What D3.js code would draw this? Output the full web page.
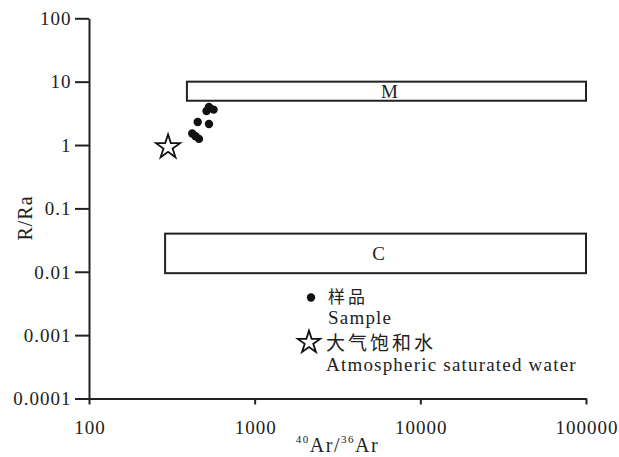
<!DOCTYPE html>
<html>
<head>
<meta charset="utf-8">
<script src="https://cdn.jsdelivr.net/npm/d3@7"></script>
<style>
  body { margin: 0; background: #fff; }
  text { font-family: "Liberation Serif", "DejaVu Serif", serif; fill: #222; }
  .cjk { font-family: "Noto Sans CJK SC", sans-serif; }
</style>
</head>
<body>
<div class="chart"></div>
<script>
// R/Ra vs 40Ar/36Ar
var xTicks = [100, 1000, 10000, 100000];
var xTickLabels = ["100", "1000", "10000", "100000"];
var yTicks = [0.0001, 0.001, 0.01, 0.1, 1, 10, 100];
var yTickLabels = ["0.0001", "0.001", "0.01", "0.1", "1", "10", "100"];

// samples: 40Ar/36Ar, R/Ra
var sampleAr = [512, 530, 565, 453, 530, 420, 440, 461];
var sampleRa = [3.45, 4.0, 3.62, 2.31, 2.15, 1.52, 1.38, 1.25];

// atmospheric saturated water
var asw = [300, 0.93];

// end-member fields [x0, x1, y0, y1]
var fieldNames = ["M", "C"];
var fieldAr = [[390, 100000], [288, 100000]];
var fieldRa = [[5, 10], [0.0095, 0.04]];

var legendNames = ["样品", "Sample", "大气饱和水", "Atmospheric saturated water"];

var width = 619, height = 457;
var margin = { top: 18.3, right: 33, bottom: 58.5, left: 89 };

var svg = d3.select(".chart")
    .append("svg")
    .attr("width", width)
    .attr("height", height);

var x = d3.scaleLog()
    .domain([100, 100000])
    .range([margin.left, width - margin.right]);

var y = d3.scaleLog()
    .domain([0.0001, 100])
    .range([height - margin.bottom, margin.top]);

var xAxis = d3.axisBottom(x)
    .tickValues(xTicks)
    .tickFormat(function(d, i) { return xTickLabels[i]; })
    .tickSize(6)
    .tickSizeOuter(0);

var yAxis = d3.axisLeft(y)
    .tickValues(yTicks)
    .tickFormat(function(d, i) { return yTickLabels[i]; })
    .tickSize(14)
    .tickSizeOuter(0);

var gx = svg.append("g")
    .attr("transform", "translate(0," + (height - margin.bottom) + ")")
    .call(xAxis);

var gy = svg.append("g")
    .attr("transform", "translate(" + margin.left + ",0)")
    .call(yAxis);

[gx, gy].forEach(function(g) {
    g.select(".domain").attr("stroke", "#222").attr("stroke-width", 2);
    g.selectAll(".tick line").attr("stroke", "#222").attr("stroke-width", 2);
    g.selectAll(".tick text")
        .style("font-family", "Liberation Serif")
        .style("font-size", "19px")
        .style("letter-spacing", "1px")
        .attr("fill", "#222");
});

gx.selectAll(".tick text").attr("y", 35).attr("dy", 0).attr("dx", 0.5);
gy.selectAll(".tick text").attr("x", -17.5).attr("dy", "0.33em");

// fields
fieldNames.forEach(function(name, i) {
    var x0 = x(fieldAr[i][0]), x1 = x(fieldAr[i][1]);
    var y0 = y(fieldRa[i][1]), y1 = y(fieldRa[i][0]);
    svg.append("rect")
        .attr("x", x0)
        .attr("y", y0)
        .attr("width", x1 - x0)
        .attr("height", y1 - y0)
        .attr("fill", "none")
        .attr("stroke", "#222")
        .attr("stroke-width", 2);
    svg.append("text")
        .attr("x", (x0 + x1) / 2 + 3)
        .attr("y", (y0 + y1) / 2)
        .attr("dy", "0.35em")
        .attr("text-anchor", "middle")
        .style("font-size", "19px")
        .text(name);
});

// samples
svg.selectAll(".dot")
    .data(sampleAr)
    .enter().append("circle")
    .attr("class", "dot")
    .attr("cx", function(d) { return x(d); })
    .attr("cy", function(d, i) { return y(sampleRa[i]); })
    .attr("r", 4.2)
    .attr("fill", "#111");

var star = d3.symbol().type(d3.symbolStar).size(180);

svg.append("path")
    .attr("d", star)
    .attr("transform", "translate(" + x(asw[0]) + "," + y(asw[1]) + ")")
    .attr("fill", "#fff")
    .attr("stroke", "#111")
    .attr("stroke-width", 1.8);

// legend
svg.append("circle")
    .attr("cx", 311)
    .attr("cy", 297.5)
    .attr("r", 4.2)
    .attr("fill", "#111");

svg.append("text")
    .attr("class", "cjk")
    .attr("x", 328)
    .attr("y", 303)
    .style("font-size", "17px")
    .style("letter-spacing", "3px")
    .text(legendNames[0]);

svg.append("text")
    .attr("x", 328)
    .attr("y", 324)
    .style("font-size", "19px")
    .style("letter-spacing", "1.2px")
    .text(legendNames[1]);

svg.append("path")
    .attr("d", d3.symbol().type(d3.symbolStar).size(155))
    .attr("transform", "translate(309,342.5)")
    .attr("fill", "#fff")
    .attr("stroke", "#111")
    .attr("stroke-width", 1.8);

svg.append("text")
    .attr("class", "cjk")
    .attr("x", 326)
    .attr("y", 349.5)
    .style("font-size", "19px")
    .style("letter-spacing", "3px")
    .text(legendNames[2]);

svg.append("text")
    .attr("x", 326)
    .attr("y", 371)
    .style("font-size", "19px")
    .style("letter-spacing", "1.2px")
    .text(legendNames[3]);

// axis titles
var xt = svg.append("text")
    .attr("x", (margin.left + width - margin.right) / 2)
    .attr("y", 451.5)
    .attr("text-anchor", "middle")
    .style("font-size", "20px")
    .style("letter-spacing", "1.5px");
xt.append("tspan").attr("dy", -9).style("font-size", "11px").text("40");
xt.append("tspan").attr("dy", 9).text("Ar/");
xt.append("tspan").attr("dy", -9).style("font-size", "11px").text("36");
xt.append("tspan").attr("dy", 9).text("Ar");

svg.append("text")
    .attr("transform", "translate(32,218) rotate(-90)")
    .attr("text-anchor", "middle")
    .style("font-size", "20px")
    .style("letter-spacing", "1px")
    .text("R/Ra");
</script>
</body>
</html>
